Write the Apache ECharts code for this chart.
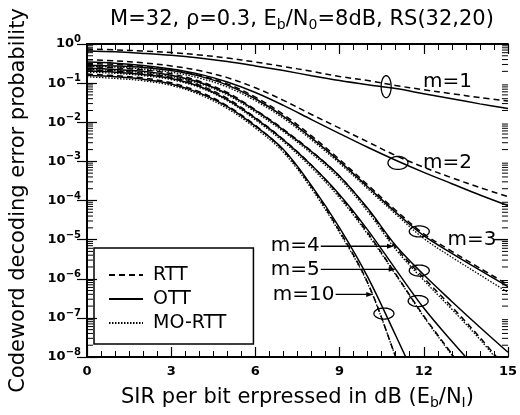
<!DOCTYPE html>
<html><head><meta charset="utf-8">
<script src="https://cdn.jsdelivr.net/npm/echarts@6/dist/echarts.min.js"></script>
<style>html,body{margin:0;padding:0;background:#fff}#c{width:520px;height:415px}</style>
</head><body><div id="c"></div>
<script>
// SIR per bit (dB) sample points
const sirDb = [0,1,2,3,4,5,6,7,8,9,10,11,12,13,14,15];

// Codeword decoding error probability, m = 1
const rttM1 = [0.741,0.708,0.661,0.603,0.525,0.437,0.347,0.266,0.2,0.148,0.117,0.0871,0.0676,0.0537,0.0427,0.0347];
const ottM1 = [0.661,0.631,0.575,0.513,0.437,0.355,0.275,0.209,0.155,0.117,0.0912,0.0724,0.0537,0.0398,0.0295,0.0224];
// m = 2
const rttM2 = [0.398,0.372,0.331,0.275,0.209,0.138,0.0759,0.0363,0.0158,0.00708,0.00316,0.00141,7.08e-4,3.8e-4,2.14e-4,1.26e-4];
const ottM2 = [0.347,0.324,0.282,0.229,0.17,0.107,0.0575,0.0269,0.0117,0.00513,0.00229,0.00107,5.25e-4,2.69e-4,1.38e-4,7.41e-5];
// m = 3
const rttM3 = [0.316,0.302,0.269,0.224,0.158,0.0955,0.0437,0.0158,0.00447,0.00112,2.51e-4,5.62e-5,1.41e-5,5.01e-6,1.86e-6,7.08e-7];
const ottM3 = [0.288,0.275,0.251,0.209,0.151,0.0891,0.0398,0.0141,0.00398,1e-3,2.24e-4,5.01e-5,1.26e-5,4.47e-6,1.66e-6,6.31e-7];
const moM3  = [0.269,0.257,0.229,0.191,0.135,0.0794,0.0355,0.0126,0.00355,8.91e-4,2e-4,4.47e-5,1.07e-5,3.55e-6,1.26e-6,4.47e-7];
// m = 4
const rttM4 = [0.263,0.245,0.219,0.174,0.112,0.0575,0.0209,0.00661,0.00182,4.17e-4,6.03e-5,6.31e-6,1.05e-6,1.91e-7,3.16e-8,4.47e-9];
const ottM4 = [0.24,0.224,0.2,0.158,0.105,0.0537,0.02,0.00631,0.00178,4.17e-4,6.31e-5,7.08e-6,1.26e-6,2.63e-7,5.75e-8,1.32e-8];
const moM4  = [0.224,0.209,0.186,0.148,0.0977,0.0501,0.0182,0.00575,0.00158,3.63e-4,5.25e-5,5.62e-6,9.12e-7,1.66e-7,2.82e-8,3.98e-9];
// m = 5
const rttM5 = [0.219,0.204,0.178,0.141,0.0891,0.0407,0.0132,0.00363,7.94e-4,1.32e-4,1.51e-5,1.32e-6,1.12e-7,1.2e-8,1.26e-9,null];
const ottM5 = [0.204,0.191,0.166,0.132,0.0832,0.038,0.0126,0.00355,7.94e-4,1.41e-4,1.78e-5,1.74e-6,1.78e-7,2.51e-8,3.98e-9,null];
const moM5  = [0.191,0.178,0.155,0.123,0.0776,0.0355,0.0115,0.00316,6.92e-4,1.17e-4,1.38e-5,1.26e-6,1.07e-7,1.12e-8,1.26e-9,null];
// m = 10
const rttM10 = [0.17,0.155,0.135,0.102,0.0603,0.0263,0.00832,0.0019,2.24e-4,1.66e-5,7.94e-7,1e-8,1e-10,null,null,null];
const ottM10 = [0.158,0.145,0.126,0.0955,0.0562,0.0251,0.00794,0.002,2.4e-4,2e-5,1.12e-6,3.55e-8,1e-9,null,null,null];
const moM10  = [0.145,0.132,0.115,0.0871,0.0513,0.0224,0.00708,0.0017,2e-4,1.51e-5,7.59e-7,1e-8,1e-10,null,null,null];

// x tick labels
const xTickLabels = ['0','3','6','9','12','15'];

const FONT = 'DejaVu Sans';
const schemes = {
  'RTT':    {type:[6,4], width:1.5},
  'OTT':    {type:'solid', width:1.5},
  'MO-RTT': {type:[1.5,1.5], width:1.3}
};
const curves = [
  ['RTT', rttM1], ['OTT', ottM1],
  ['RTT', rttM2], ['OTT', ottM2],
  ['RTT', rttM3], ['OTT', ottM3], ['MO-RTT', moM3],
  ['RTT', rttM4], ['OTT', ottM4], ['MO-RTT', moM4],
  ['RTT', rttM5], ['OTT', ottM5], ['MO-RTT', moM5],
  ['RTT', rttM10], ['OTT', ottM10], ['MO-RTT', moM10]
];

const series = curves.map(([name, vals]) => ({
  type: 'line', name, symbol: 'none', showSymbol: false, smooth: 0.35,
  data: sirDb.map((x, i) => [x, vals[i]]).filter(d => d[1] != null),
  lineStyle: {color:'#000', width: schemes[name].width, type: schemes[name].type},
  itemStyle: {color:'#000'}, z: 3, animation: false
}));

// log-axis minor ticks (2..9 within each decade), drawn on both vertical edges
const yMinor = [];
for (let k = 1; k <= 8; k++) for (let d = 2; d <= 9; d++) yMinor.push(d * Math.pow(10, -k));
series.push({
  type: 'custom', silent: true, z: 6, animation: false,
  data: yMinor.map(v => [0, v]),
  renderItem(params, api) {
    const v = api.value(1);
    const l = api.coord([0, v]), r = api.coord([15, v]);
    const st = {stroke:'#000', lineWidth:1};
    return {type:'group', children:[
      {type:'line', shape:{x1:l[0], y1:l[1], x2:l[0]+6, y2:l[1]}, style:st},
      {type:'line', shape:{x1:r[0], y1:r[1], x2:r[0]-6, y2:r[1]}, style:st}
    ]};
  }
});

// annotations: ellipses around curve groups, labels and pointer arrows
const groupEllipses = [
  {at:[10.66, 0.0813], rx:5, ry:11},
  {at:[11.08, 9.12e-4], rx:10, ry:6.5},
  {at:[11.84, 1.62e-5], rx:10, ry:5.5},
  {at:[11.84, 1.62e-6], rx:10, ry:5.5},
  {at:[11.80, 2.69e-7], rx:10, ry:5.5},
  {at:[10.58, 1.29e-7], rx:10, ry:5.5}
];
const groupLabels = [
  {text:'m=1', at:[11.97, 0.11], align:'left'},
  {text:'m=2', at:[11.97, 9.12e-4], align:'left'},
  {text:'m=3', at:[12.85, 1e-5], align:'left', leader:[14.47, 15]},
  {text:'m=4', at:[8.29, 6.76e-6], align:'right', arrow:[8.33, 10.94]},
  {text:'m=5', at:[8.29, 1.74e-6], align:'right', arrow:[8.33, 11.0]},
  {text:'m=10', at:[8.82, 3.98e-7], align:'right', arrow:[8.86, 10.2]}
];
series.push({
  type:'custom', silent:true, z:7, animation:false,
  data: groupEllipses.map(e => e.at),
  renderItem(params, api) {
    const e = groupEllipses[params.dataIndex];
    const c = api.coord(e.at);
    const pts = [];
    for (let i = 0; i < 48; i++) {
      const t = i / 48 * Math.PI * 2;
      pts.push([c[0] + e.rx * Math.cos(t), c[1] + e.ry * Math.sin(t)]);
    }
    return {type:'polygon', shape:{points:pts}, style:{fill:null, stroke:'#000', lineWidth:1.3}};
  }
});
series.push({
  type:'custom', silent:true, z:7, animation:false,
  data: groupLabels.map(l => l.at),
  renderItem(params, api) {
    const l = groupLabels[params.dataIndex];
    const c = api.coord(l.at);
    const kids = [{type:'text', x:c[0], y:c[1], style:{text:l.text, font:'20px "DejaVu Sans"', fill:'#000', align:l.align, verticalAlign:'middle'}}];
    const st = {stroke:'#000', lineWidth:1.4};
    if (l.leader) {
      const a = api.coord([l.leader[0], l.at[1]]), b = api.coord([l.leader[1], l.at[1]]);
      kids.push({type:'line', shape:{x1:a[0], y1:a[1], x2:b[0], y2:b[1]}, style:st});
    }
    if (l.arrow) {
      const a = api.coord([l.arrow[0], l.at[1]]), b = api.coord([l.arrow[1], l.at[1]]);
      kids.push({type:'line', shape:{x1:a[0], y1:a[1], x2:b[0]-5, y2:b[1]}, style:st});
      kids.push({type:'polygon', shape:{points:[[b[0], b[1]], [b[0]-7, b[1]-2.5], [b[0]-7, b[1]+2.5]]}, style:{fill:'#000'}});
    }
    return {type:'group', children:kids};
  }
});

const supRich = {
  b: {fontFamily:FONT, fontSize:13, fontWeight:'bold', color:'#000'},
  s: {fontFamily:FONT, fontSize:10, fontWeight:'bold', color:'#000', padding:[0,0,9,0]}
};
const subRich = {
  t: {fontFamily:FONT, fontSize:21, fontWeight:'normal', color:'#000'},
  s: {fontFamily:FONT, fontSize:14, fontWeight:'normal', color:'#000', padding:[10,0,0,0]}
};
const axisLineStyle = {lineStyle:{color:'#000', width:2}};
const tickStyle = {inside:true, length:10, lineStyle:{color:'#000', width:1.2}};
const minorStyle = {show:true, splitNumber:6, length:6, lineStyle:{color:'#000', width:1}};

const chart = echarts.init(document.getElementById('c'), null, {renderer:'canvas'});
chart.setOption({
  animation: false,
  backgroundColor: '#fff',
  title: {
    text: '{t|M=32, ρ=0.3, E}{s|b}{t|/N}{s|0}{t|=8dB, RS(32,20)}',
    left: 297, top: 3, textAlign: 'center',
    textStyle: {fontWeight:'normal', rich: subRich}
  },
  legend: {
    data: ['RTT','OTT','MO-RTT'], orient: 'vertical', left: 94, top: 248,
    padding: [17, 27, 11, 14], itemWidth: 34, itemHeight: 14, itemGap: 4,
    borderColor: '#000', borderWidth: 1.5, borderRadius: 0, selectedMode: false,
    itemStyle: {opacity: 0, borderWidth: 0},
    textStyle: {fontFamily:FONT, fontSize:19, lineHeight:20, color:'#000', padding:[0,0,0,5]}
  },
  grid: {left: 83, right: 12, top: 44, bottom: 55},
  xAxis: [{
    type:'value', min:0, max:15, interval:3,
    name: '{t|SIR per bit erpressed in dB (E}{s|b}{t|/N}{s|I}{t|)}',
    nameLocation:'middle', nameGap: 29,
    nameTextStyle: {rich: subRich},
    axisLine: axisLineStyle, axisTick: tickStyle, minorTick: minorStyle,
    axisLabel: {margin:8, fontFamily:FONT, fontSize:13, fontWeight:'bold', color:'#000',
      formatter: v => xTickLabels[Math.round(v / 3)]},
    splitLine: {show:false}
  }, {
    type:'value', min:0, max:15, interval:3, position:'top',
    axisLine: axisLineStyle, axisTick: tickStyle, minorTick: minorStyle,
    axisLabel: {show:false}, splitLine: {show:false}
  }],
  yAxis: [{
    type:'log', logBase:10, min:1e-8, max:1, interval:1, splitNumber:8,
    name: 'Codeword decoding error probability',
    nameLocation:'middle', nameGap: 58, nameRotate: 90,
    nameTextStyle: {fontFamily:FONT, fontSize:21, color:'#000'},
    axisLine: axisLineStyle, axisTick: tickStyle,
    axisLabel: {margin:6, rich: supRich,
      formatter: v => {
        const e = Math.round(Math.log10(v));
        return '{b|10}{s|' + (e === 0 ? '0' : '\u2212' + (-e)) + '}';
      }},
    splitLine: {show:false}
  }, {
    type:'log', logBase:10, min:1e-8, max:1, interval:1, splitNumber:8, position:'right',
    axisLine: axisLineStyle, axisTick: tickStyle,
    axisLabel: {show:false}, splitLine: {show:false}
  }],
  series
});
</script></body></html>
